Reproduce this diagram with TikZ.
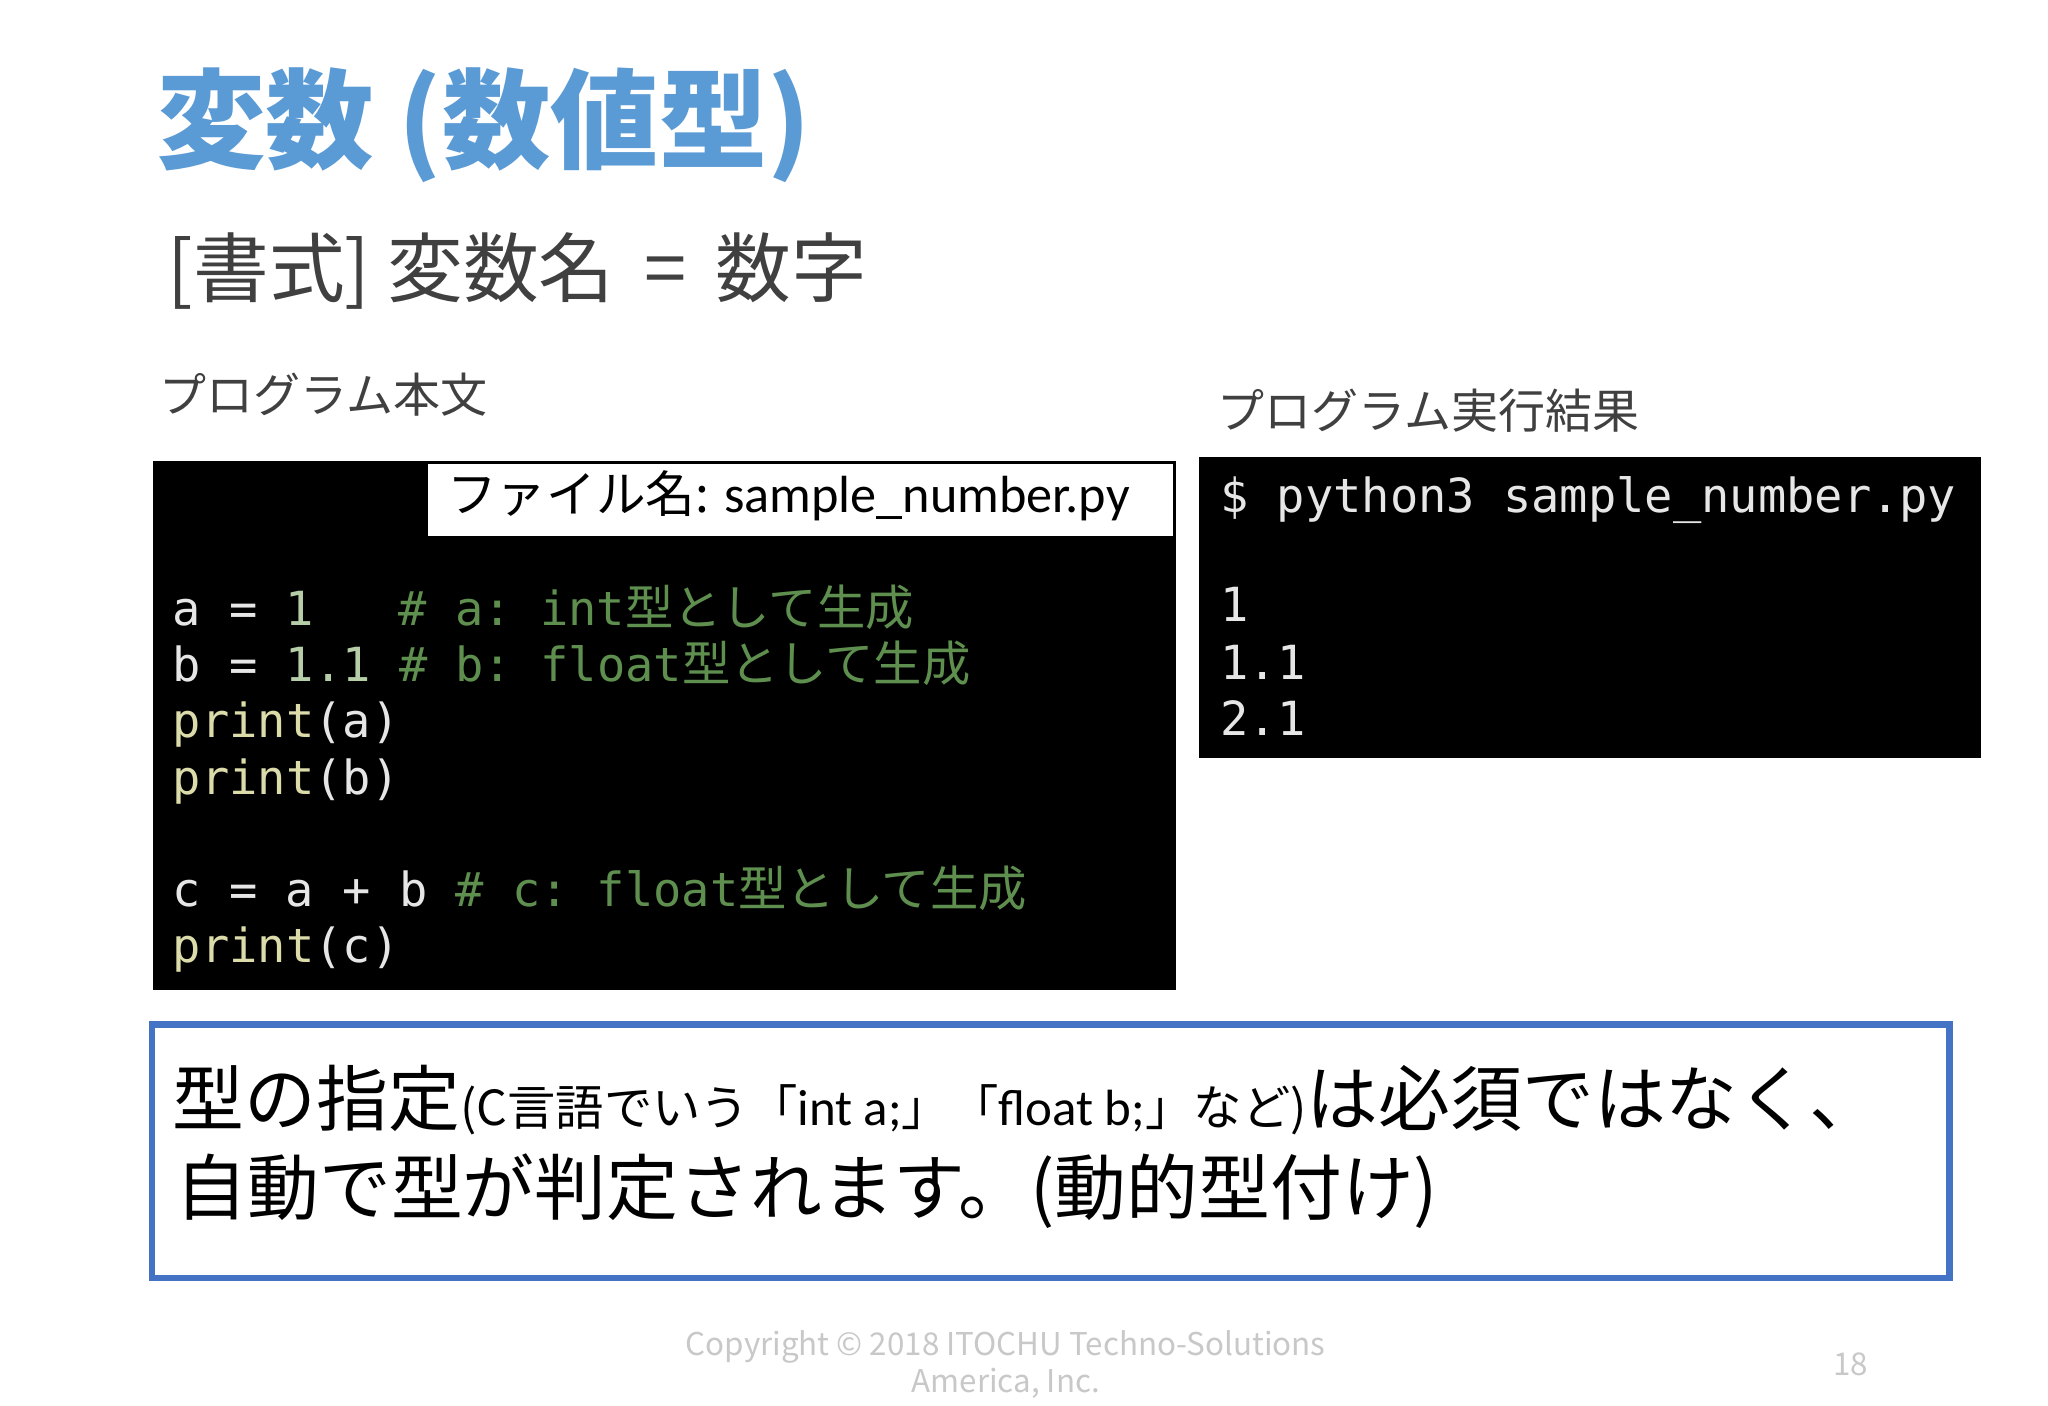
\documentclass[tikz,border=0pt]{standalone}
\usepackage{fontspec}
\setmainfont{Noto Sans CJK JP}
\newfontfamily\jp{Noto Sans CJK JP}
\newfontfamily\calf{Carlito}
\newfontfamily\monof{DejaVu Sans Mono}
\definecolor{ttl}{HTML}{5B9BD5}
\definecolor{dk}{HTML}{404040}
\definecolor{cw}{HTML}{E6E6E6}
\definecolor{cp}{HTML}{DCDCAA}
\definecolor{cn}{HTML}{B5CEA8}
\definecolor{cc}{HTML}{5F8F4E}
\definecolor{bb}{HTML}{4472C4}
\definecolor{ft}{HTML}{C8C8C8}
\newcommand{\cj}[1]{{\jp\fontsize{18.5}{18.5}\selectfont #1}}
\newcommand{\msp}{\hspace{0.6em}}
\begin{document}
\begin{tikzpicture}[x=0.5pt,y=-0.5pt,
  txt/.style={anchor=base west,inner sep=0pt},
  code/.style={txt,font=\monof\fontsize{18}{18}\selectfont}]
\useasboundingbox (0,0) rectangle (1568,1076);
\fill[white] (0,0) rectangle (1568,1076);
\node[txt,text=ttl,font=\jp\bfseries\fontsize{41.5}{41.5}\selectfont] (title) at (120,123) {変数 (数値型)};
\node[txt,text=dk,font=\jp\fontsize{29}{29}\selectfont] (fmt) at (128,227) {[書式] 変数名 \,=\, 数字};
\node[txt,text=dk,font=\jp\fontsize{18}{18}\selectfont] (l1) at (122,316) {プログラム本文};
\node[txt,text=dk,font=\jp\fontsize{18}{18}\selectfont] (l2) at (932,328) {プログラム実行結果};
% left code box
\fill[black] (117,353) rectangle (900,758);
\node[draw=black,fill=white,line width=1pt,minimum width=572*0.5pt,minimum height=57*0.5pt,inner sep=0pt,anchor=north west] (fn) at (326,353) {};
\node[txt,text=black,font=\fontsize{19}{19}\selectfont] (fnt) at (342,392) {ファイル名: {\calf\fontsize{20}{20}\selectfont sample\_number.py}};
\node[code,text=cw] (c1) at (132,479) {a\msp=\msp\textcolor{cn}{1}\msp\msp\msp\textcolor{cc}{\#\msp a:\msp int\cj{型として生成}}};
\node[code,text=cw] (c2) at (132,522) {b\msp=\msp\textcolor{cn}{1.1}\msp\textcolor{cc}{\#\msp b:\msp float\cj{型として生成}}};
\node[code,text=cw] (c3) at (132,565) {\textcolor{cp}{print}(a)};
\node[code,text=cw] (c4) at (132,608) {\textcolor{cp}{print}(b)};
\node[code,text=cw] (c5) at (132,694) {c\msp=\msp a\msp+\msp b\msp\textcolor{cc}{\#\msp c:\msp float\cj{型として生成}}};
\node[code,text=cw] (c6) at (132,737) {\textcolor{cp}{print}(c)};
% right result box
\fill[black] (918,350) rectangle (1517,580);
\node[code,text=cw] (r0) at (934,392) {\$\msp python3\msp sample\_number.py};
\node[code,text=cw] (r1) at (934,476) {1};
\node[code,text=cw] (r2) at (934,520) {1.1};
\node[code,text=cw] (r3) at (934,563) {2.1};
% note box
\node[draw=bb,line width=2.5pt,minimum width=1376*0.5pt,minimum height=194*0.5pt,inner sep=0pt,anchor=north west] (note) at (114,782) {};
\node[txt,text=black,font=\fontsize{27.5}{27.5}\selectfont] (n1) at (132,862) {型の指定{\fontsize{18.5}{18.5}\selectfont (C言語でいう「{\calf\fontsize{19.5}{19.5}\selectfont int a;}」「{\calf\fontsize{19.5}{19.5}\selectfont float b;}」など)}は必須ではなく、};
\node[txt,text=black,font=\fontsize{27.5}{27.5}\selectfont] (n2) at (134,930) {自動で型が判定されます。(動的型付け)};
% footer
\node[anchor=base,inner sep=0pt,text=ft,font=\fontsize{12}{12}\selectfont] (f1) at (770,1038) {Copyright © 2018 ITOCHU Techno-Solutions};
\node[anchor=base,inner sep=0pt,text=ft,font=\fontsize{12}{12}\selectfont] (f2) at (770,1066) {America, Inc.};
\node[anchor=base,inner sep=0pt,text=ft,font=\fontsize{12}{12}\selectfont] (pg) at (1417,1053) {18};
\end{tikzpicture}
\end{document}
